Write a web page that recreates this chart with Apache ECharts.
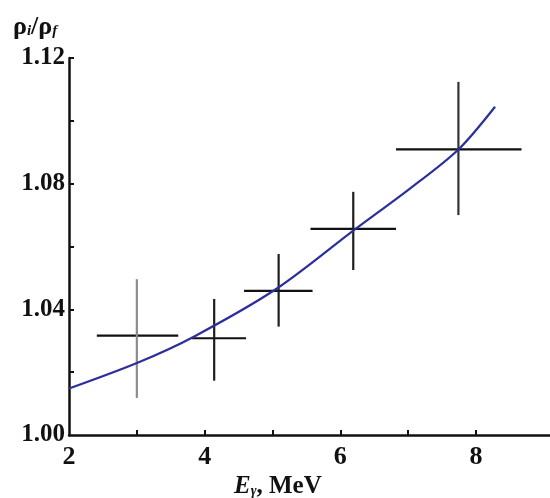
<!DOCTYPE html>
<html><head><meta charset="utf-8">
<script src="https://cdn.jsdelivr.net/npm/echarts@6/dist/echarts.min.js"></script>
<style>html,body{margin:0;padding:0;background:#fff}#c{width:550px;height:498px}</style>
</head><body><div id="c"></div>
<script>
// Data
const pointX    = [3.00, 4.14, 5.09, 6.19, 7.74];
const pointY    = [1.0316, 1.0308, 1.0459, 1.0656, 1.0909];
const xLow      = [2.41, 3.81, 4.58, 5.56, 6.82];
const xHigh     = [3.61, 4.61, 5.59, 6.82, 8.67];
const yLow      = [1.0118, 1.0173, 1.0345, 1.0525, 1.0700];
const yHigh     = [1.0496, 1.0433, 1.0576, 1.0774, 1.1124];
const curveX    = [2.00, 3.01, 3.84, 5.07, 6.20, 7.03, 7.74, 8.28];
const curveY    = [1.0148, 1.0230, 1.0313, 1.0467, 1.0652, 1.0785, 1.0909, 1.1045];
const xTickLabels = [2, 4, 6, 8];
const xTicks      = [3, 4, 5, 6, 7, 8];
const yTickLabels = [1.00, 1.04, 1.08, 1.12];
const yTicks      = [1.02, 1.04, 1.06, 1.08, 1.10, 1.12];

const vColors = ['#8c8c8c', '#1e1e1e', '#1e1e1e', '#1e1e1e', '#333333'];
const font = '"Liberation Serif", "DejaVu Serif", serif';

const chart = echarts.init(document.getElementById('c'));
chart.setOption({
  animation: false,
  backgroundColor: '#fff',
  grid: { left: 69, right: 0, top: 58, bottom: 63, containLabel: false },
  xAxis: {
    type: 'value', min: 2, max: 9.09,
    axisLine: { show: true, onZero: false, lineStyle: { color: '#111', width: 2.5 } },
    axisTick: { show: true, inside: true, length: 5, customValues: xTicks, lineStyle: { color: '#111', width: 2 } },
    axisLabel: { customValues: xTickLabels, margin: 9, color: '#111', fontFamily: font, fontSize: 26, fontWeight: 'bold' },
    splitLine: { show: false }
  },
  yAxis: {
    type: 'value', min: 1.00, max: 1.12,
    axisLine: { show: true, onZero: false, lineStyle: { color: '#111', width: 2.5 } },
    axisTick: { show: true, inside: true, length: 5, customValues: yTicks, lineStyle: { color: '#111', width: 2 } },
    axisLabel: { customValues: yTickLabels, margin: 4, color: '#111', fontFamily: font, fontSize: 25, fontWeight: 'bold',
      formatter: v => v.toFixed(2) },
    splitLine: { show: false }
  },
  graphic: [
    { type: 'text', left: 13, top: 14, style: {
      rich: {
        r: { fontFamily: font, fontSize: 26, fontWeight: 'bold', fill: '#111' },
        s: { fontFamily: font, fontSize: 15, fontStyle: 'italic', fontWeight: 'bold', fill: '#111', padding: [8, 0, 0, 0] }
      },
      text: '{r|ρ}{s|i}{r|/ρ}{s|f}' } },
    { type: 'text', left: 234, top: 474, style: {
      rich: {
        e: { fontFamily: font, fontSize: 25, fontStyle: 'italic', fontWeight: 'bold', fill: '#111' },
        s: { fontFamily: font, fontSize: 14, fontStyle: 'italic', fontWeight: 'bold', fill: '#111', padding: [10, 0, 0, 0] },
        t: { fontFamily: font, fontSize: 25, fontWeight: 'bold', fill: '#111' }
      },
      text: '{e|E}{s|γ}{t|, MeV}' } }
  ],
  series: [
    {
      type: 'line', smooth: 0.3, showSymbol: false, z: 3,
      data: curveX.map((x, i) => [x, curveY[i]]),
      lineStyle: { color: '#2b2f9c', width: 2.2 }
    },
    {
      type: 'custom', z: 2,
      data: pointX.map((x, i) => [x, pointY[i], xLow[i], xHigh[i], yLow[i], yHigh[i]]),
      renderItem: function (params, api) {
        const c = api.coord([api.value(0), api.value(1)]);
        const l = api.coord([api.value(2), api.value(1)]);
        const r = api.coord([api.value(3), api.value(1)]);
        const lo = api.coord([api.value(0), api.value(4)]);
        const hi = api.coord([api.value(0), api.value(5)]);
        return { type: 'group', children: [
          { type: 'line', shape: { x1: l[0], y1: c[1], x2: r[0], y2: c[1] }, style: { stroke: '#111', lineWidth: 2.2 } },
          { type: 'line', shape: { x1: c[0], y1: hi[1], x2: c[0], y2: lo[1] }, style: { stroke: vColors[params.dataIndex], lineWidth: 2.2 } }
        ]};
      }
    }
  ]
});
</script></body></html>
